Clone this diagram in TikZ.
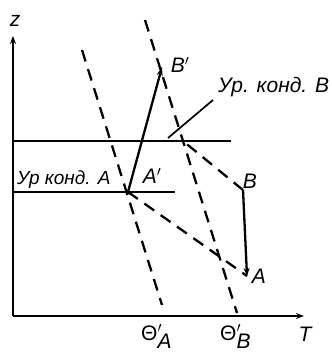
\documentclass[tikz,border=0pt]{standalone}
\usepackage{fontspec}
\setmainfont{Liberation Sans}
\usetikzlibrary{arrows.meta}
\begin{document}
\begin{tikzpicture}[x=1pt,y=-1pt,
  axis/.style={line width=2.6pt,-{Stealth[length=8pt,width=6pt]}},
  level/.style={line width=2.2pt},
  dashline/.style={line width=2.3pt,dash pattern=on 12pt off 8pt},
  proc/.style={line width=2.3pt},
  lbl/.style={font=\fontsize{21}{24}\selectfont\itshape,inner sep=0pt},
  slbl/.style={font=\fontsize{19}{22}\selectfont\itshape,inner sep=0pt}]
\useasboundingbox (0,0) rectangle (332,354);
% coordinates
\coordinate (O) at (13,316);
\coordinate (Ztop) at (13,36);
\coordinate (Tend) at (304,316);
\coordinate (L1a) at (13,141);
\coordinate (L1b) at (231,141);
\coordinate (L2a) at (13,192);
\coordinate (L2b) at (175,192);
\coordinate (Ap) at (128,192);
\coordinate (Bp) at (162,67);
\coordinate (B) at (243,190);
\coordinate (A) at (247,276);
\coordinate (ThAt) at (82,50);
\coordinate (ThAb) at (162,305);
\coordinate (ThBt) at (145,20);
\coordinate (ThBb) at (237,313);
\coordinate (Bc) at (183,141);
\coordinate (Lk1) at (168,138);
\coordinate (Lk2) at (213,100);
% axes
\draw[axis] (O) -- (Ztop);
\draw[axis] (O) -- (Tend);
% levels
\draw[level] (L1a) -- (L1b);
\draw[level] (L2a) -- (L2b);
% dashed lines
\draw[dashline] (ThAt) -- (ThAb);
\draw[dashline] (ThBt) -- (ThBb);
\draw[dashline] (Ap) -- (A);
\draw[dashline] (B) -- (Bc);
% processes
\draw[proc,-{Stealth[length=9pt,width=6pt]}] (Ap) -- (Bp);
\draw[proc,-{Stealth[length=8pt,width=6pt,open]}] (B) -- (A);
% leader
\draw[line width=1.7pt] (Lk1) -- (Lk2);
% labels
\node[lbl] (zl) at (15,21) {z};
\node[lbl] (Tl) at (305,334) {T};
\node[lbl,anchor=base west] (lB) at (218,92) {Ур. конд. B};
\node[slbl,anchor=base west] (lA) at (17,184) {Ур конд. A};
\node[lbl] (Apl) at (152,176) {A$'$};
\node[lbl] (Bpl) at (180,65) {B$'$};
\node[lbl] (Bl) at (250,181) {B};
\node[lbl] (Al) at (259,276) {A};
\node[lbl,anchor=base west] (thA) at (141,340) {\upshape Θ$'_{\textit{A}}$};
\node[lbl,anchor=base west] (thB) at (220,340) {\upshape Θ$'_{\textit{B}}$};
\end{tikzpicture}
\end{document}
